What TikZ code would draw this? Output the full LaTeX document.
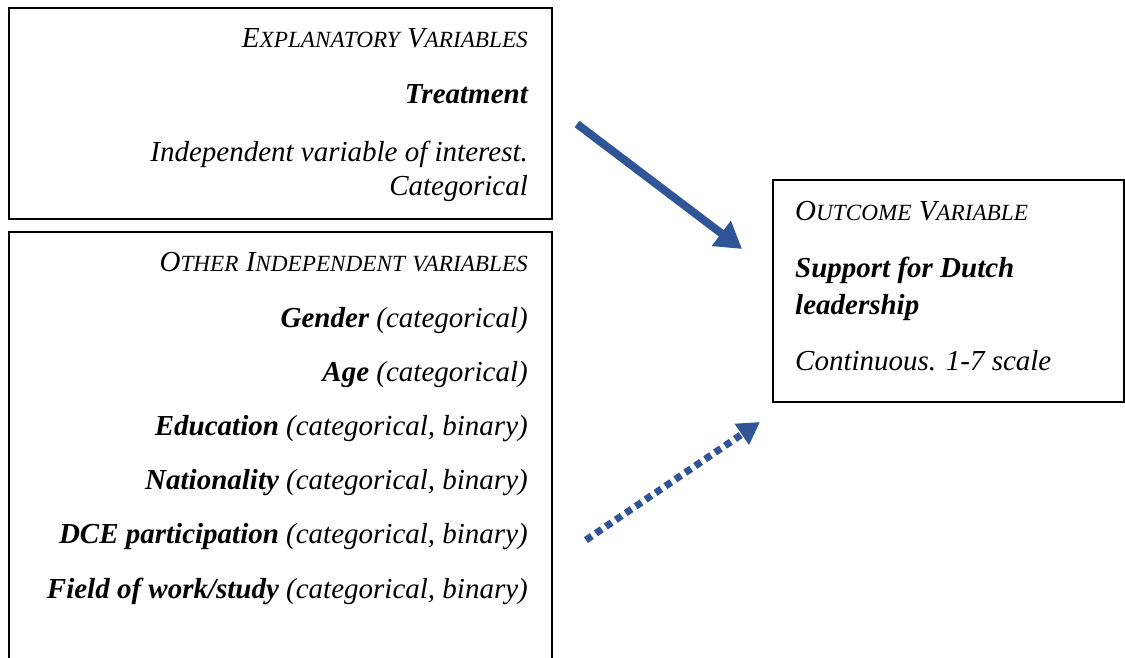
\documentclass[tikz,border=0pt]{standalone}
\usepackage{fontspec}
\setmainfont{Liberation Serif}
\usetikzlibrary{arrows.meta}
\definecolor{arrowblue}{RGB}{47,85,151}
% Faked small capitals: capital at full size, the rest as smaller capitals
\newcommand{\smallcapsize}{\fontsize{23.2}{27}\selectfont}
\newcommand{\fsc}[2]{#1{\smallcapsize #2}}
\begin{document}
\begin{tikzpicture}[x=1pt,y=-1pt,
  panel/.style={draw=black,line width=1.3pt},
  rline/.style={anchor=base east,inner sep=0pt,font=\fontsize{29}{34}\selectfont\itshape},
  lline/.style={anchor=base west,inner sep=0pt,font=\fontsize{29}{34}\selectfont\itshape},
  flow/.style={draw=arrowblue,line width=8pt,-{Triangle[length=26pt,width=30pt]}},
  maybeflow/.style={draw=arrowblue,line width=7pt,dash pattern=on 7pt off 5pt,-{Triangle[length=22pt,width=24pt]}}]
\useasboundingbox (0,0) rectangle (1125,658);
\begin{scope}
\clip (0,0) rectangle (1125,658);
% boxes
\draw[panel] (9,8) rectangle (552,219);
\draw[panel] (9,670) -- (9,232) -- (552,232) -- (552,670);
\draw[panel] (1140,180) -- (773,180) -- (773,402) -- (1140,402);
\draw[panel] (1124,180) -- (1124,402);
\end{scope}
% explanatory variables
\node[rline] (h1) at (528,48) {\fsc{E}{XPLANATORY} \fsc{V}{ARIABLES}};
\node[rline] (treat) at (528,104) {\bfseries Treatment};
\node[rline] (ind1) at (528,162) {Independent variable of interest.};
\node[rline] (ind2) at (528,196) {Categorical};
% other independent variables
\node[rline] (h2) at (528,271) {\fsc{O}{THER} \fsc{I}{NDEPENDENT} {\smallcapsize VARIABLES}};
\node[rline] (v1) at (528,327) {\bfseries Gender \mdseries(categorical)};
\node[rline] (v2) at (528,381) {\bfseries Age \mdseries(categorical)};
\node[rline] (v3) at (528,435) {\bfseries Education \mdseries(categorical, binary)};
\node[rline] (v4) at (528,489) {\bfseries Nationality \mdseries(categorical, binary)};
\node[rline] (v5) at (528,543) {\bfseries DCE participation \mdseries(categorical, binary)};
\node[rline] (v6) at (528,598) {\bfseries Field of work/study \mdseries(categorical, binary)};
% outcome variable
\node[lline] (h3) at (795,220) {\fsc{O}{UTCOME} \fsc{V}{ARIABLE}};
\node[lline] (out1) at (795,277) {\bfseries Support for Dutch};
\node[lline] (out2) at (795,314) {\bfseries leadership};
\node[lline] (out3) at (795,370) {Continuous. 1-7 scale};
% connectors
\coordinate (treatFrom) at (577,124);
\coordinate (treatTo) at (742,249);
\coordinate (ctrlFrom) at (586,540);
\coordinate (ctrlTo) at (760,422);
\draw[flow] (treatFrom) -- (treatTo);
\draw[maybeflow] (ctrlFrom) -- (ctrlTo);
\end{tikzpicture}
\end{document}
